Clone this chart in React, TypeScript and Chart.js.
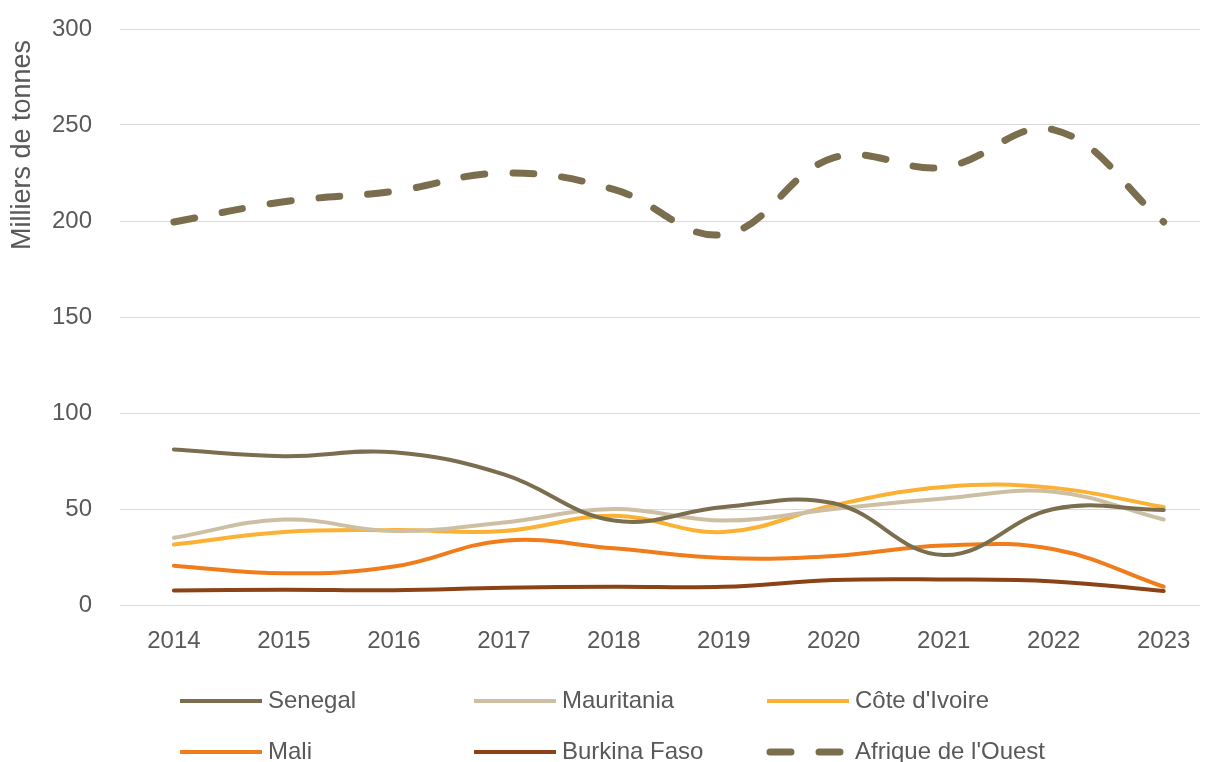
import React, { useEffect, useRef } from "react";
import { Chart, registerables } from "chart.js";

Chart.register(...registerables);

const years = [2014, 2015, 2016, 2017, 2018, 2019, 2020, 2021, 2022, 2023];
const senegal = [81, 77.5, 79.5, 68, 44, 51, 53, 26, 50, 49.5];
const mauritania = [35, 44.5, 38.5, 43, 50, 44, 50, 55.5, 59, 44.5];
const coteIvoire = [31.5, 38, 39, 38.5, 46.5, 38, 52, 61.5, 61, 51];
const mali = [20.5, 16.5, 20, 33.5, 29.5, 24.5, 25.5, 31, 29, 9.5];
const burkina = [7.5, 8, 7.7, 9, 9.5, 9.5, 13, 13.3, 12.3, 7.3];
const afrique = [199.5, 210, 215.5, 225, 216.5, 193, 233, 228, 247.5, 199.5];
const yTicks = [0, 50, 100, 150, 200, 250, 300];
const yTitle = "Milliers de tonnes";

const FONT = '"Liberation Sans", Arial, sans-serif';
const TEXT = "#595959";

const legendCols = [180, 474, 767];
const legendRows = [701, 752];

const overlay = {
  id: "overlay",
  afterDraw(chart: any) {
    const ctx = chart.ctx;
    ctx.save();
    ctx.translate(23, 145);
    ctx.rotate(-Math.PI / 2);
    ctx.font = `27px ${FONT}`;
    ctx.fillStyle = TEXT;
    ctx.textAlign = "center";
    ctx.textBaseline = "middle";
    ctx.fillText(yTitle, 0, 0);
    ctx.restore();

    chart.data.datasets.forEach((ds: any, i: number) => {
      const x0 = legendCols[i % 3];
      const y = legendRows[Math.floor(i / 3)];
      ctx.save();
      ctx.strokeStyle = ds.borderColor;
      ctx.lineWidth = ds.borderWidth;
      ctx.lineCap = ds.borderDash ? "round" : "butt";
      ctx.setLineDash(ds.borderDash || []);
      ctx.beginPath();
      ctx.moveTo(x0 + (ds.borderDash ? 3 : 0), y);
      ctx.lineTo(x0 + 82, y);
      ctx.stroke();
      ctx.setLineDash([]);
      ctx.font = `24px ${FONT}`;
      ctx.fillStyle = TEXT;
      ctx.textAlign = "left";
      ctx.textBaseline = "middle";
      ctx.fillText(ds.label, x0 + 88, y);
      ctx.restore();
    });
  },
};

function series(label: string, values: number[], color: string, width: number, dash?: number[]) {
  return {
    label,
    data: values.map((v, i) => ({ x: years[i], y: v })),
    borderColor: color,
    backgroundColor: color,
    borderWidth: width,
    borderDash: dash,
    borderCapStyle: "round" as const,
    borderJoinStyle: "round" as const,
    pointRadius: 0,
    tension: 0.4,
    fill: false,
  };
}

export default function App() {
  const ref = useRef<HTMLCanvasElement>(null);
  useEffect(() => {
    if (!ref.current) return;
    const chart = new Chart(ref.current, {
      type: "line",
      data: {
        datasets: [
          series("Senegal", senegal, "#7A6E4E", 4),
          series("Mauritania", mauritania, "#CDBFA4", 4),
          series("Côte d'Ivoire", coteIvoire, "#FBB133", 4),
          series("Mali", mali, "#F07C1B", 4),
          series("Burkina Faso", burkina, "#8B4216", 4),
          series("Afrique de l'Ouest", afrique, "#7A6E4E", 7, [21, 28]),
        ],
      },
      options: {
        responsive: false,
        animation: false,
        layout: { padding: { left: 0, top: 29, right: 6, bottom: 97 } },
        plugins: { legend: { display: false }, tooltip: { enabled: false } },
        scales: {
          x: {
            type: "linear",
            min: 2013.51,
            max: 2023.33,
            grid: { display: false },
            border: { display: false },
            afterBuildTicks: (s: any) => {
              s.ticks = years.map((v) => ({ value: v }));
            },
            afterFit: (s: any) => {
              s.height = 60;
              s.paddingLeft = 0;
              s.paddingRight = 0;
            },
            ticks: {
              autoSkip: false,
              maxRotation: 0,
              padding: 14,
              color: TEXT,
              font: { family: FONT, size: 24 },
              callback: (v: any) => String(v),
            },
          },
          y: {
            min: 0,
            max: 300,
            afterBuildTicks: (s: any) => {
              s.ticks = yTicks.map((v) => ({ value: v }));
            },
            afterFit: (s: any) => {
              s.width = 120;
              s.paddingTop = 0;
              s.paddingBottom = 0;
            },
            grid: { color: "#D9D9D9", lineWidth: 1, drawTicks: false },
            border: { display: false },
            ticks: {
              padding: 28,
              color: TEXT,
              font: { family: FONT, size: 24 },
            },
          },
        },
      },
      plugins: [overlay],
    });
    return () => chart.destroy();
  }, []);
  return (
    <canvas
      ref={ref}
      width={1206}
      height={762}
      style={{ position: "fixed", left: 0, top: 0, display: "block" }}
    />
  );
}
